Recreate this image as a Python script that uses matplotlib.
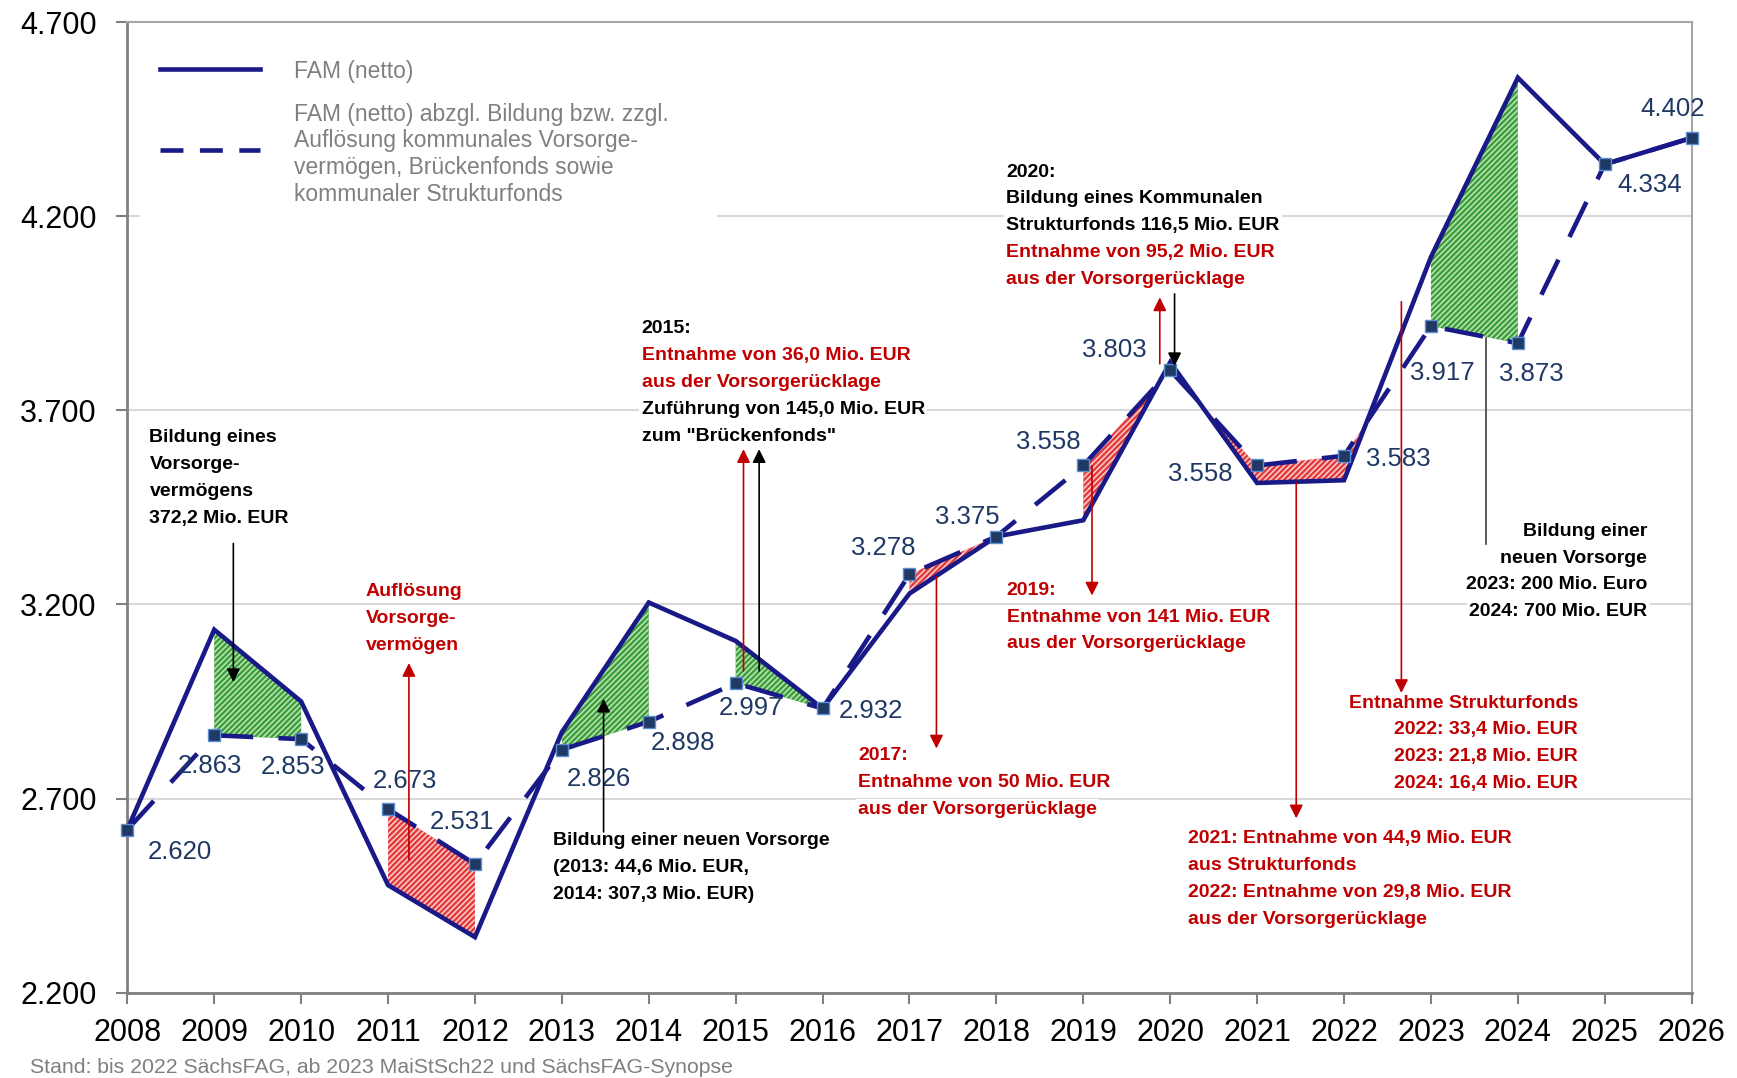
import numpy as np
import matplotlib.pyplot as plt
from matplotlib.ticker import FuncFormatter
from matplotlib.patches import Rectangle

plt.rcParams['font.family'] = ['Liberation Sans', 'DejaVu Sans']
plt.rcParams['hatch.linewidth'] = 1.1

# data (Mio. EUR)
years = list(range(2008, 2027))
fam_netto = [2620, 3135, 2950, 2477, 2343, 2871, 3205, 3106, 2932, 3228,
             3375, 3417, 3824, 3513, 3520, 4095, 4557, 4334, 4402]
fam_bereinigt = [2620, 2863, 2853, 2673, 2531, 2826, 2898, 2997, 2932, 3278,
                 3375, 3558, 3803, 3558, 3583, 3917, 3873, 4334, 4402]
# shaded spans (both signs) and red-only span
shade_spans = [(2009, 2010), (2011, 2012), (2013, 2014), (2015, 2016),
               (2017, 2018), (2019, 2022), (2023, 2024)]
red_only_spans = [(2022, 2023)]

# label offsets in points (dx, dy) relative to the dashed-line markers
label_off = [(38, -16), (-3, -22), (-6, -20), (12, 20), (-9, 30), (27, -21),
             (25, -15), (11, -18), (35, -2), (-19, 19), (-21, 14), (-25, 17),
             (-40, 15), (-41, -6), (39, -2), (8, -34), (10, -22), (32, -15),
             (-14, 21)]

NAVY = '#191987'
RED = '#C00000'
GREEN_FACE, GREEN_HATCH = '#3c9e3c', '#bfe6b5'
RED_FACE, RED_HATCH = '#e23b3b', '#ffd0d0'
LABEL_BLUE = '#1F3864'

x = np.array(years)
s = np.array(fam_netto, dtype=float)
d = np.array(fam_bereinigt, dtype=float)

fig = plt.figure(figsize=(17.37, 10.78), dpi=100)
ax = fig.add_axes([0.0733, 0.0792, 0.9006, 0.9002])
ax.set_xlim(2008, 2026)
ax.set_ylim(2200, 4700)
ax.set_axisbelow(True)
ax.yaxis.grid(True, color='#d9d9d9', lw=1.5)
ax.set_yticks(np.arange(2200, 4701, 500))
ax.set_xticks(years)
ax.yaxis.set_major_formatter(FuncFormatter(lambda v, p: f"{v/1000:.3f}"))
ax.tick_params(axis='both', labelsize=22, color='#808080', length=8, width=1.5)
ax.tick_params(axis='y', pad=14)
ax.tick_params(axis='x', pad=10)
for side in ['left', 'bottom']:
    ax.spines[side].set_color('#808080')
    ax.spines[side].set_linewidth(2)
for side in ['top', 'right']:
    ax.spines[side].set_color('#a6a6a6')
    ax.spines[side].set_linewidth(1.5)


def shade(a, b, green=True, red=True):
    i0, i1 = years.index(a), years.index(b) + 1
    xs, ss, ds = x[i0:i1], s[i0:i1], d[i0:i1]
    if green:
        ax.fill_between(xs, ss, ds, where=ss >= ds, interpolate=True,
                        facecolor=GREEN_FACE, edgecolor=GREEN_HATCH,
                        hatch='//////', lw=0, zorder=2)
    if red:
        ax.fill_between(xs, ss, ds, where=ds >= ss, interpolate=True,
                        facecolor=RED_FACE, edgecolor=RED_HATCH,
                        hatch='//////', lw=0, zorder=2)


for a, b in shade_spans:
    shade(a, b)
for a, b in red_only_spans:
    shade(a, b, green=False)

ax.plot(x, s, color=NAVY, lw=3.3, zorder=3, solid_joinstyle='miter')
ax.plot(x, d, color=NAVY, lw=3.3, zorder=4, dashes=(8.5, 5.5))
ax.plot(x, d, ls='none', marker='s', ms=8.5, mfc=LABEL_BLUE, mec='#5b8fd0',
        mew=1, zorder=5, clip_on=False)

for xi, v, (dx, dy) in zip(x, d, label_off):
    ax.annotate(f"{v/1000:.3f}", xy=(xi, v), xytext=(dx, dy),
                textcoords='offset points', ha='center', va='center',
                fontsize=18.5, color=LABEL_BLUE, zorder=6)

# legend (drawn by hand)
ax.add_patch(Rectangle((0.008, 0.784), 0.369, 0.203, transform=ax.transAxes,
                       facecolor='white', edgecolor='none', zorder=1))
ax.plot([0.0212, 0.085], [0.9521, 0.9521], transform=ax.transAxes,
        color=NAVY, lw=3.3, clip_on=False, zorder=3)
ax.plot([0.0212, 0.085], [0.8687, 0.8687], transform=ax.transAxes,
        color=NAVY, lw=3.3, dashes=(5, 3.6), clip_on=False, zorder=3)
ax.text(0.1063, 0.949, "FAM (netto)", transform=ax.transAxes, fontsize=16.5,
        color='#808080', va='center', zorder=3)
leg_lines = ["FAM (netto) abzgl. Bildung bzw. zzgl.",
             "Auflösung kommunales Vorsorge-",
             "vermögen, Brückenfonds sowie",
             "kommunaler Strukturfonds"]
for i, t in enumerate(leg_lines):
    ax.text(0.1063, 0.905 - i * 0.0274, t, transform=ax.transAxes,
            fontsize=16.5, color='#808080', va='center', zorder=3)

SP = 19.4  # line spacing in points


def block(xp, yp, lines, ha='left'):
    for i, (t, c) in enumerate(lines):
        ax.annotate(t, xy=(xp, yp), xytext=(0, -i * SP),
                    textcoords='offset points', ha=ha, va='center',
                    fontsize=14, fontweight='bold', color=c, zorder=1,
                    bbox=dict(boxstyle='square,pad=0.12', fc='white', ec='none'))


K, R = 'black', RED
block(2008.255, 3629, [("Bildung eines", K), ("Vorsorge-", K),
                       ("vermögens", K), ("372,2 Mio. EUR", K)])
block(2010.74, 3234, [("Auflösung", R), ("Vorsorge-", R), ("vermögen", R)])
block(2013.92, 3911, [("2015:", K), ("Entnahme von 36,0 Mio. EUR", R),
                      ("aus der Vorsorgerücklage", R),
                      ("Zuführung von 145,0 Mio. EUR", K),
                      ('zum "Brückenfonds"', K)])
block(2012.90, 2592, [("Bildung einer neuen Vorsorge", K),
                      ("(2013: 44,6 Mio. EUR,", K), ("2014: 307,3 Mio. EUR)", K)])
block(2016.41, 2811, [("2017:", R), ("Entnahme von 50 Mio. EUR", R),
                      ("aus der Vorsorgerücklage", R)])
block(2018.12, 3237, [("2019:", R), ("Entnahme von 141 Mio. EUR", R),
                      ("aus der Vorsorgerücklage", R)])
block(2018.11, 4314, [("2020:", K), ("Bildung eines Kommunalen", K),
                      ("Strukturfonds 116,5 Mio. EUR", K),
                      ("Entnahme von 95,2 Mio. EUR", R),
                      ("aus der Vorsorgerücklage", R)])
block(2020.20, 2597, [("2021: Entnahme von 44,9 Mio. EUR", R),
                      ("aus Strukturfonds", R),
                      ("2022: Entnahme von 29,8 Mio. EUR", R),
                      ("aus der Vorsorgerücklage", R)])
block(2024.69, 2946, [("Entnahme Strukturfonds", R), ("2022: 33,4 Mio. EUR", R),
                      ("2023: 21,8 Mio. EUR", R), ("2024: 16,4 Mio. EUR", R)],
      ha='right')
block(2025.49, 3389, [("Bildung einer", K), ("neuen Vorsorge", K),
                      ("2023: 200 Mio. Euro", K), ("2024: 700 Mio. EUR", K)],
      ha='right')

arrows = [((2009.22, 3357), (2009.22, 3000), K),
          ((2011.24, 2543), (2011.24, 3049), R),
          ((2015.09, 3029), (2015.09, 3600), R),
          ((2015.27, 3029), (2015.27, 3600), K),
          ((2013.48, 2614), (2013.48, 2957), K),
          ((2017.31, 3271), (2017.31, 2829), R),
          ((2019.10, 3557), (2019.10, 3223), R),
          ((2019.88, 3820), (2019.88, 3991), R),
          ((2020.05, 4000), (2020.05, 3814), K),
          ((2021.45, 3514), (2021.45, 2649), R),
          ((2022.66, 3980), (2022.66, 2972), R)]
for tail, head, c in arrows:
    ax.annotate('', xy=head, xytext=tail,
                arrowprops=dict(arrowstyle='-|>', color=c, lw=1.2,
                                mutation_scale=20, shrinkA=0, shrinkB=0),
                zorder=7)
ax.plot([2023.63, 2023.63], [3886, 3357], color='#404040', lw=1.2, zorder=7)

fig.text(0.0173, 0.0102, "Stand: bis 2022 SächsFAG, ab 2023 MaiStSch22 und SächsFAG-Synopse",
         fontsize=15.3, color='#808080', va='center')

fig.savefig('out.png', dpi=100)
